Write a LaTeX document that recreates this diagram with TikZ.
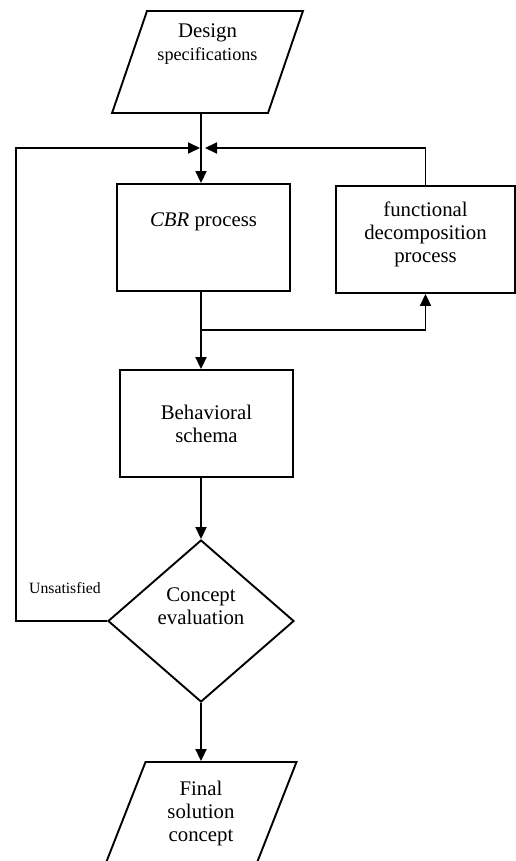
\documentclass[tikz,border=0pt]{standalone}
\usepackage{fontspec}
\setmainfont{Liberation Serif}
\usetikzlibrary{arrows.meta,shapes.geometric}

\begin{document}
\begin{tikzpicture}[x=1pt,y=1pt,yscale=-1,line width=1.9pt,
	arr/.style={-{Triangle[length=12pt,width=11pt]}},
	procbox/.style={draw,rectangle,inner sep=2pt,align=center,font=\fontsize{20.8}{23}\selectfont},
	iobox/.style={draw,trapezium,trapezium left angle=69.6,trapezium right angle=110.4,trapezium stretches=true,minimum width=191pt,minimum height=102pt,inner sep=2pt,align=center,font=\fontsize{20.8}{23}\selectfont},
	decision/.style={draw,diamond,inner sep=0pt,align=center,font=\fontsize{20.8}{23}\selectfont}]
	\useasboundingbox (0,0) rectangle (516,861);
	\clip (0,0) rectangle (516,861);
	
	%Shape: Parallelogram [id:spec] 
	\node [iobox,text depth=40pt] (spec) at (207.5,62) {Design\\{\fontsize{18.2}{21}\selectfont specifications}};
	%Shape: Rectangle [id:cbr] 
	\node [procbox,minimum width=173pt,minimum height=107pt,text depth=35pt] (cbr) at (203.5,237.5) {\textit{CBR} process};
	%Shape: Rectangle [id:func] 
	\node [procbox,minimum width=179pt,minimum height=107pt,text depth=14pt] (func) at (425.5,239.5) {functional\\decomposition\\process};
	%Shape: Rectangle [id:beh] 
	\node [procbox,minimum width=173pt,minimum height=107pt] (beh) at (206.5,423.5) {Behavioral\\schema};
	%Shape: Diamond [id:eval] 
	\node [decision,minimum width=186pt,minimum height=162pt,text depth=30pt] (eval) at (201,621) {Concept\\evaluation};
	%Shape: Parallelogram [id:final] 
	\node [iobox] (final) at (201,813) {Final\\solution\\concept};
	
	% Text Node
	\node [font=\fontsize{15.7}{18}\selectfont] (unsat) at (65,588) {Unsatisfied};
	
	\coordinate (join) at (201,148);
	\coordinate (split) at (201,330);
	\coordinate (back) at (16,148);
	
	%Straight Lines 
	\draw (join |- spec.south) -- (join);
	\draw [arr] (join) -- (join |- cbr.north);
	\draw [arr] (eval.west) -| (back) -- ([xshift=-1pt]join);
	\draw [arr] (func.north) |- ([xshift=4pt]join);
	\draw (join |- cbr.south) -- (split);
	\draw [arr] (split) -- (join |- beh.north);
	\draw [arr] (split) -| (func.south);
	\draw [arr] (join |- beh.south) -- (eval.north);
	\draw [arr] (eval.south) -- (final.north);
	
\end{tikzpicture}
\end{document}
